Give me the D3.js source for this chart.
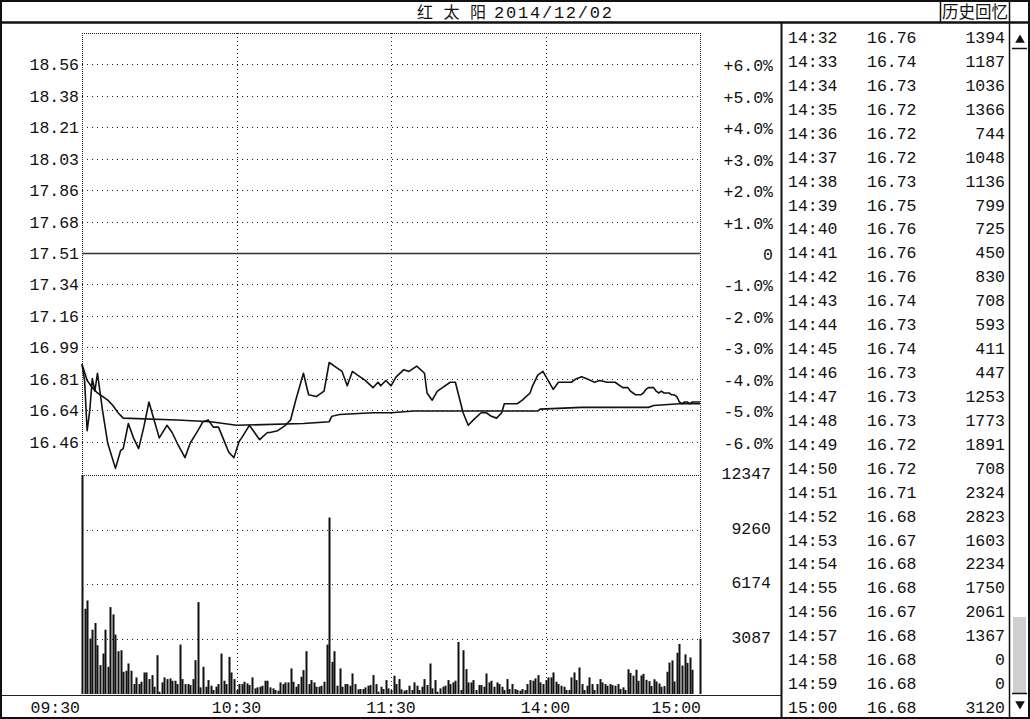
<!DOCTYPE html>
<html><head><meta charset="utf-8">
<script src="https://cdn.jsdelivr.net/npm/d3@7"></script>
<style>
body{margin:0;background:#fff}
svg{display:block}
text{font-family:"Liberation Mono","DejaVu Sans Mono",monospace;font-size:16.5px;fill:#111}
</style>
</head><body><svg id="c" width="1030" height="719"></svg>
<script>
// ---------- DATA ----------
const stockNameChars = ["红","太","阳"];
const tradeDate = "2014/12/02";
const prevClose = 17.51;
const pctTicks = [6,5,4,3,2,1,0,-1,-2,-3,-4,-5,-6];
const priceTickLabels = ["18.56","18.38","18.21","18.03","17.86","17.68","17.51","17.34","17.16","16.99","16.81","16.64","16.46"];
const pctTickLabels = ["+6.0%","+5.0%","+4.0%","+3.0%","+2.0%","+1.0%","0","-1.0%","-2.0%","-3.0%","-4.0%","-5.0%","-6.0%"];
const volTickValues = [12347, 9260, 6174, 3087];
const timeLabels = ["09:30","10:30","11:30","14:00","15:00"];
const timeLabelMinutes = [0,60,120,180,240];

const priceMinutes = [0,1,2,3,4,5,6,8,10,13,15,16,18,20,22,24,26,28,30,33,35,37,40,42,45,47,49,51,53,55,57,59,61,62,65,67,69,72,73,76,79,81,83,86,88,91,94,96,99,101,103,105,107,110,113,115,116,118,120,122,125,127,128,130,133,134,136,138,140,143,145,148,150,152,155,157,159,161,163,164,166,169,171,174,175,177,179,181,183,185,188,190,192,194,196,199,201,204,207,210,
 212,213,214,215,216,217,218,219,220,221,222,223,224,225,226,227,228,229,230,231,232,233,234,235,236,237,238,239,240];
const priceValues = [16.89,16.80,16.52,16.63,16.81,16.74,16.84,16.63,16.45,16.31,16.41,16.42,16.56,16.48,16.42,16.54,16.68,16.58,16.48,16.55,16.51,16.45,16.37,16.45,16.52,16.57,16.58,16.54,16.54,16.47,16.40,16.37,16.46,16.48,16.55,16.51,16.47,16.51,16.51,16.52,16.55,16.58,16.69,16.84,16.72,16.71,16.74,16.90,16.87,16.85,16.77,16.85,16.83,16.80,16.76,16.79,16.77,16.80,16.77,16.82,16.86,16.85,16.86,16.88,16.84,16.73,16.69,16.74,16.76,16.79,16.79,16.62,16.55,16.58,16.62,16.62,16.60,16.59,16.62,16.67,16.67,16.67,16.69,16.73,16.77,16.83,16.85,16.80,16.75,16.79,16.79,16.79,16.81,16.82,16.81,16.79,16.80,16.79,16.79,16.76,
 16.76,16.74,16.73,16.72,16.72,16.72,16.73,16.75,16.76,16.76,16.76,16.74,16.73,16.74,16.73,16.73,16.73,16.72,16.72,16.71,16.68,16.67,16.68,16.68,16.67,16.68,16.68,16.68,16.68];

const avgMinutes = [0,2,4,6,10,12,14,16,37,50,60,86,96,97,100,113,120,129,177,178,194,220,222,232,240];
const avgValues  = [16.89,16.80,16.76,16.73,16.69,16.66,16.62,16.59,16.58,16.57,16.55,16.56,16.57,16.60,16.61,16.62,16.62,16.63,16.63,16.64,16.65,16.65,16.66,16.67,16.67];

const volumes = [12347,4806,5273,3122,3627,4001,2749,1627,2281,3627,1533,4899,4488,3347,2412,2468,1252,1309,1720,1309,
 561,935,561,691,1215,1215,841,1066,411,2188,130,654,935,841,879,748,748,561,2786,841,
 561,561,505,841,1907,5180,374,1533,411,785,467,224,411,561,2281,748,561,2094,1215,841,
 224,561,561,691,598,505,935,317,374,411,467,748,748,374,317,224,187,654,561,654,
 654,1440,691,411,561,972,1346,2412,561,785,654,411,411,467,691,2786,9948,1814,2412,467,
 1440,411,561,561,467,1159,561,262,280,280,374,467,505,1066,561,130,411,280,785,317,
 224,1028,561,
 841,262,187,224,467,224,654,467,224,411,841,505,1720,317,785,130,317,411,467,785,
 561,654,748,2936,224,2468,1402,654,654,785,224,505,505,411,1159,654,748,411,654,561,
 411,224,841,280,561,280,224,187,280,224,561,785,748,879,1066,654,561,785,935,935,
 1215,691,561,467,411,224,224,935,1215,785,1496,561,224,467,935,561,224,561,841,654,
 561,467,561,505,467,561,280,374,224,
 1394,1187,1036,1366,744,1048,1136,799,725,450,830,708,593,411,447,1253,1773,1891,708,2324,2823,1603,2234,1750,2061,1367,0,0,3120];

const tableTimes = ["14:32","14:33","14:34","14:35","14:36","14:37","14:38","14:39","14:40","14:41","14:42","14:43","14:44","14:45","14:46","14:47","14:48","14:49","14:50","14:51","14:52","14:53","14:54","14:55","14:56","14:57","14:58","14:59","15:00"];
const tablePrices = ["16.76","16.74","16.73","16.72","16.72","16.72","16.73","16.75","16.76","16.76","16.76","16.74","16.73","16.74","16.73","16.73","16.73","16.72","16.72","16.71","16.68","16.67","16.68","16.68","16.67","16.68","16.68","16.68","16.68"];
const tableVolumes = [1394,1187,1036,1366,744,1048,1136,799,725,450,830,708,593,411,447,1253,1773,1891,708,2324,2823,1603,2234,1750,2061,1367,0,0,3120];

// ---------- DRAW ----------
const svg = d3.select("#c");
const ink = "#111";

const x = d3.scaleLinear().domain([0,240]).range([82,700]);
const yPct = d3.scaleLinear().domain([-7,7]).range([473,33]);
const yPrice = v => yPct((v/prevClose - 1)*100);
const yVol = d3.scaleLinear().domain([0,12347]).range([694,475]);

// horizontal grid (price)
pctTicks.forEach((p,i)=>{
  svg.append("line").attr("x1",82).attr("x2",700).attr("y1",Math.round(yPct(p))+0.5).attr("y2",Math.round(yPct(p))+0.5)
    .attr("stroke", p===0? "#333":"#222").attr("stroke-width", p===0?1.6:1)
    .attr("stroke-dasharray", p===0? null : "1,4");
  svg.append("text").attr("x",79).attr("y",yPct(p)+6).attr("text-anchor","end").text(priceTickLabels[i]);
  svg.append("text").attr("x",773).attr("y",yPct(p)+7).attr("text-anchor","end").text(pctTickLabels[i]);
});
// volume grid
volTickValues.forEach((v,i)=>{
  const yy = Math.round(yVol(v))+0.5;
  svg.append("line").attr("x1",82).attr("x2",700).attr("y1",yy).attr("y2",yy)
    .attr("stroke","#222").attr("stroke-dasharray", i===0?"1,1":"1,4");
  svg.append("text").attr("x",771).attr("y",yVol(v)+4).attr("text-anchor","end").text(String(v));
});
// pane borders
svg.append("line").attr("x1",82).attr("x2",700).attr("y1",33.5).attr("y2",33.5).attr("stroke","#222").attr("stroke-dasharray","1,1");
[0,240].forEach(m=>{
  svg.append("line").attr("x1",Math.round(x(m))+0.5).attr("x2",Math.round(x(m))+0.5).attr("y1",33).attr("y2",694)
   .attr("stroke","#222").attr("stroke-dasharray","1,1");
});
[60,120,180].forEach(m=>{
  svg.append("line").attr("x1",Math.round(x(m))+0.5).attr("x2",Math.round(x(m))+0.5).attr("y1",33).attr("y2",694)
   .attr("stroke","#222").attr("stroke-dasharray","1,3");
});

// volume bars
svg.append("g").selectAll("rect").data(volumes).join("rect")
  .attr("x",(d,i)=>Math.round(x(i))-0.5).attr("width",2)
  .attr("y",d=>yVol(d)).attr("height",d=>Math.max(0,yVol(0)-yVol(d)))
  .attr("fill",ink);

// avg line
const line = d3.line().x(d=>x(d[0])).y(d=>yPrice(d[1]));
svg.append("path").datum(avgMinutes.map((m,i)=>[m,avgValues[i]]))
  .attr("d", line).attr("fill","none").attr("stroke",ink).attr("stroke-width",1.6);
// price line
svg.append("path").datum(priceMinutes.map((m,i)=>[m,priceValues[i]]))
  .attr("d", line)
  .attr("fill","none").attr("stroke",ink).attr("stroke-width",1.6).attr("stroke-linejoin","round");

// time axis
svg.append("line").attr("x1",0).attr("x2",782).attr("y1",695.5).attr("y2",695.5).attr("stroke","#222");
timeLabels.forEach((t,i)=>{
  const m = timeLabelMinutes[i];
  const anchor = i===0||i===timeLabels.length-1 ? "end":"middle";
  const xx = i===0 ? 80 : (i===timeLabels.length-1 ? 701 : x(m));
  svg.append("text").attr("x",xx).attr("y",713).attr("text-anchor",anchor).text(t);
});

// table
tableTimes.forEach((t,i)=>{
  const yy = 37 + i*23.93 + 6;
  svg.append("text").attr("x",788).attr("y",yy).text(t);
  svg.append("text").attr("x",867).attr("y",yy).text(tablePrices[i]);
  svg.append("text").attr("x",1005).attr("y",yy).attr("text-anchor","end").text(String(tableVolumes[i]));
});

// title
stockNameChars.forEach((c,i)=>{
  svg.append("text").attr("x",425+i*26.5).attr("y",18).attr("text-anchor","middle")
    .style("font-family",'"Noto Sans CJK SC",sans-serif').style("font-size","16px").text(c);
});
svg.append("text").attr("x",494).attr("y",18).style("font-size","17px").attr("textLength",118).text(tradeDate);
svg.append("text").attr("x",942).attr("y",18).style("font-family",'"Noto Sans CJK SC",sans-serif').style("font-size","16.5px").text("历史回忆");

// scrollbar
svg.append("rect").attr("x",1013).attr("y",617).attr("width",13).attr("height",76).attr("fill","#cfcfcf");
svg.append("path").attr("d",d3.symbol(d3.symbolTriangle,40)()).attr("transform","translate(1020,40)").attr("fill",ink);
svg.append("line").attr("x1",1012).attr("x2",1027).attr("y1",48.5).attr("y2",48.5).attr("stroke",ink).attr("stroke-width",1.5);
svg.append("path").attr("d",d3.symbol(d3.symbolTriangle,40)()).attr("transform","translate(1020,704) rotate(180)").attr("fill",ink);
svg.append("line").attr("x1",1012).attr("x2",1027).attr("y1",693.5).attr("y2",693.5).attr("stroke",ink).attr("stroke-width",1.5);

// frame
const fr = (x1,y1,x2,y2,w)=>svg.append("line").attr("x1",x1).attr("y1",y1).attr("x2",x2).attr("y2",y2).attr("stroke",ink).attr("stroke-width",w);
fr(0,1,1030,1,2);
fr(0,22.5,1030,22.5,2.5);
fr(1,0,1,719,2);
fr(1029,0,1029,719,2);
fr(0,718,1030,718,2);
fr(781.5,22,781.5,719,2);
fr(1009.5,0,1009.5,719,1.5);
fr(940.5,0,940.5,22,1.5);
</script></body></html>
